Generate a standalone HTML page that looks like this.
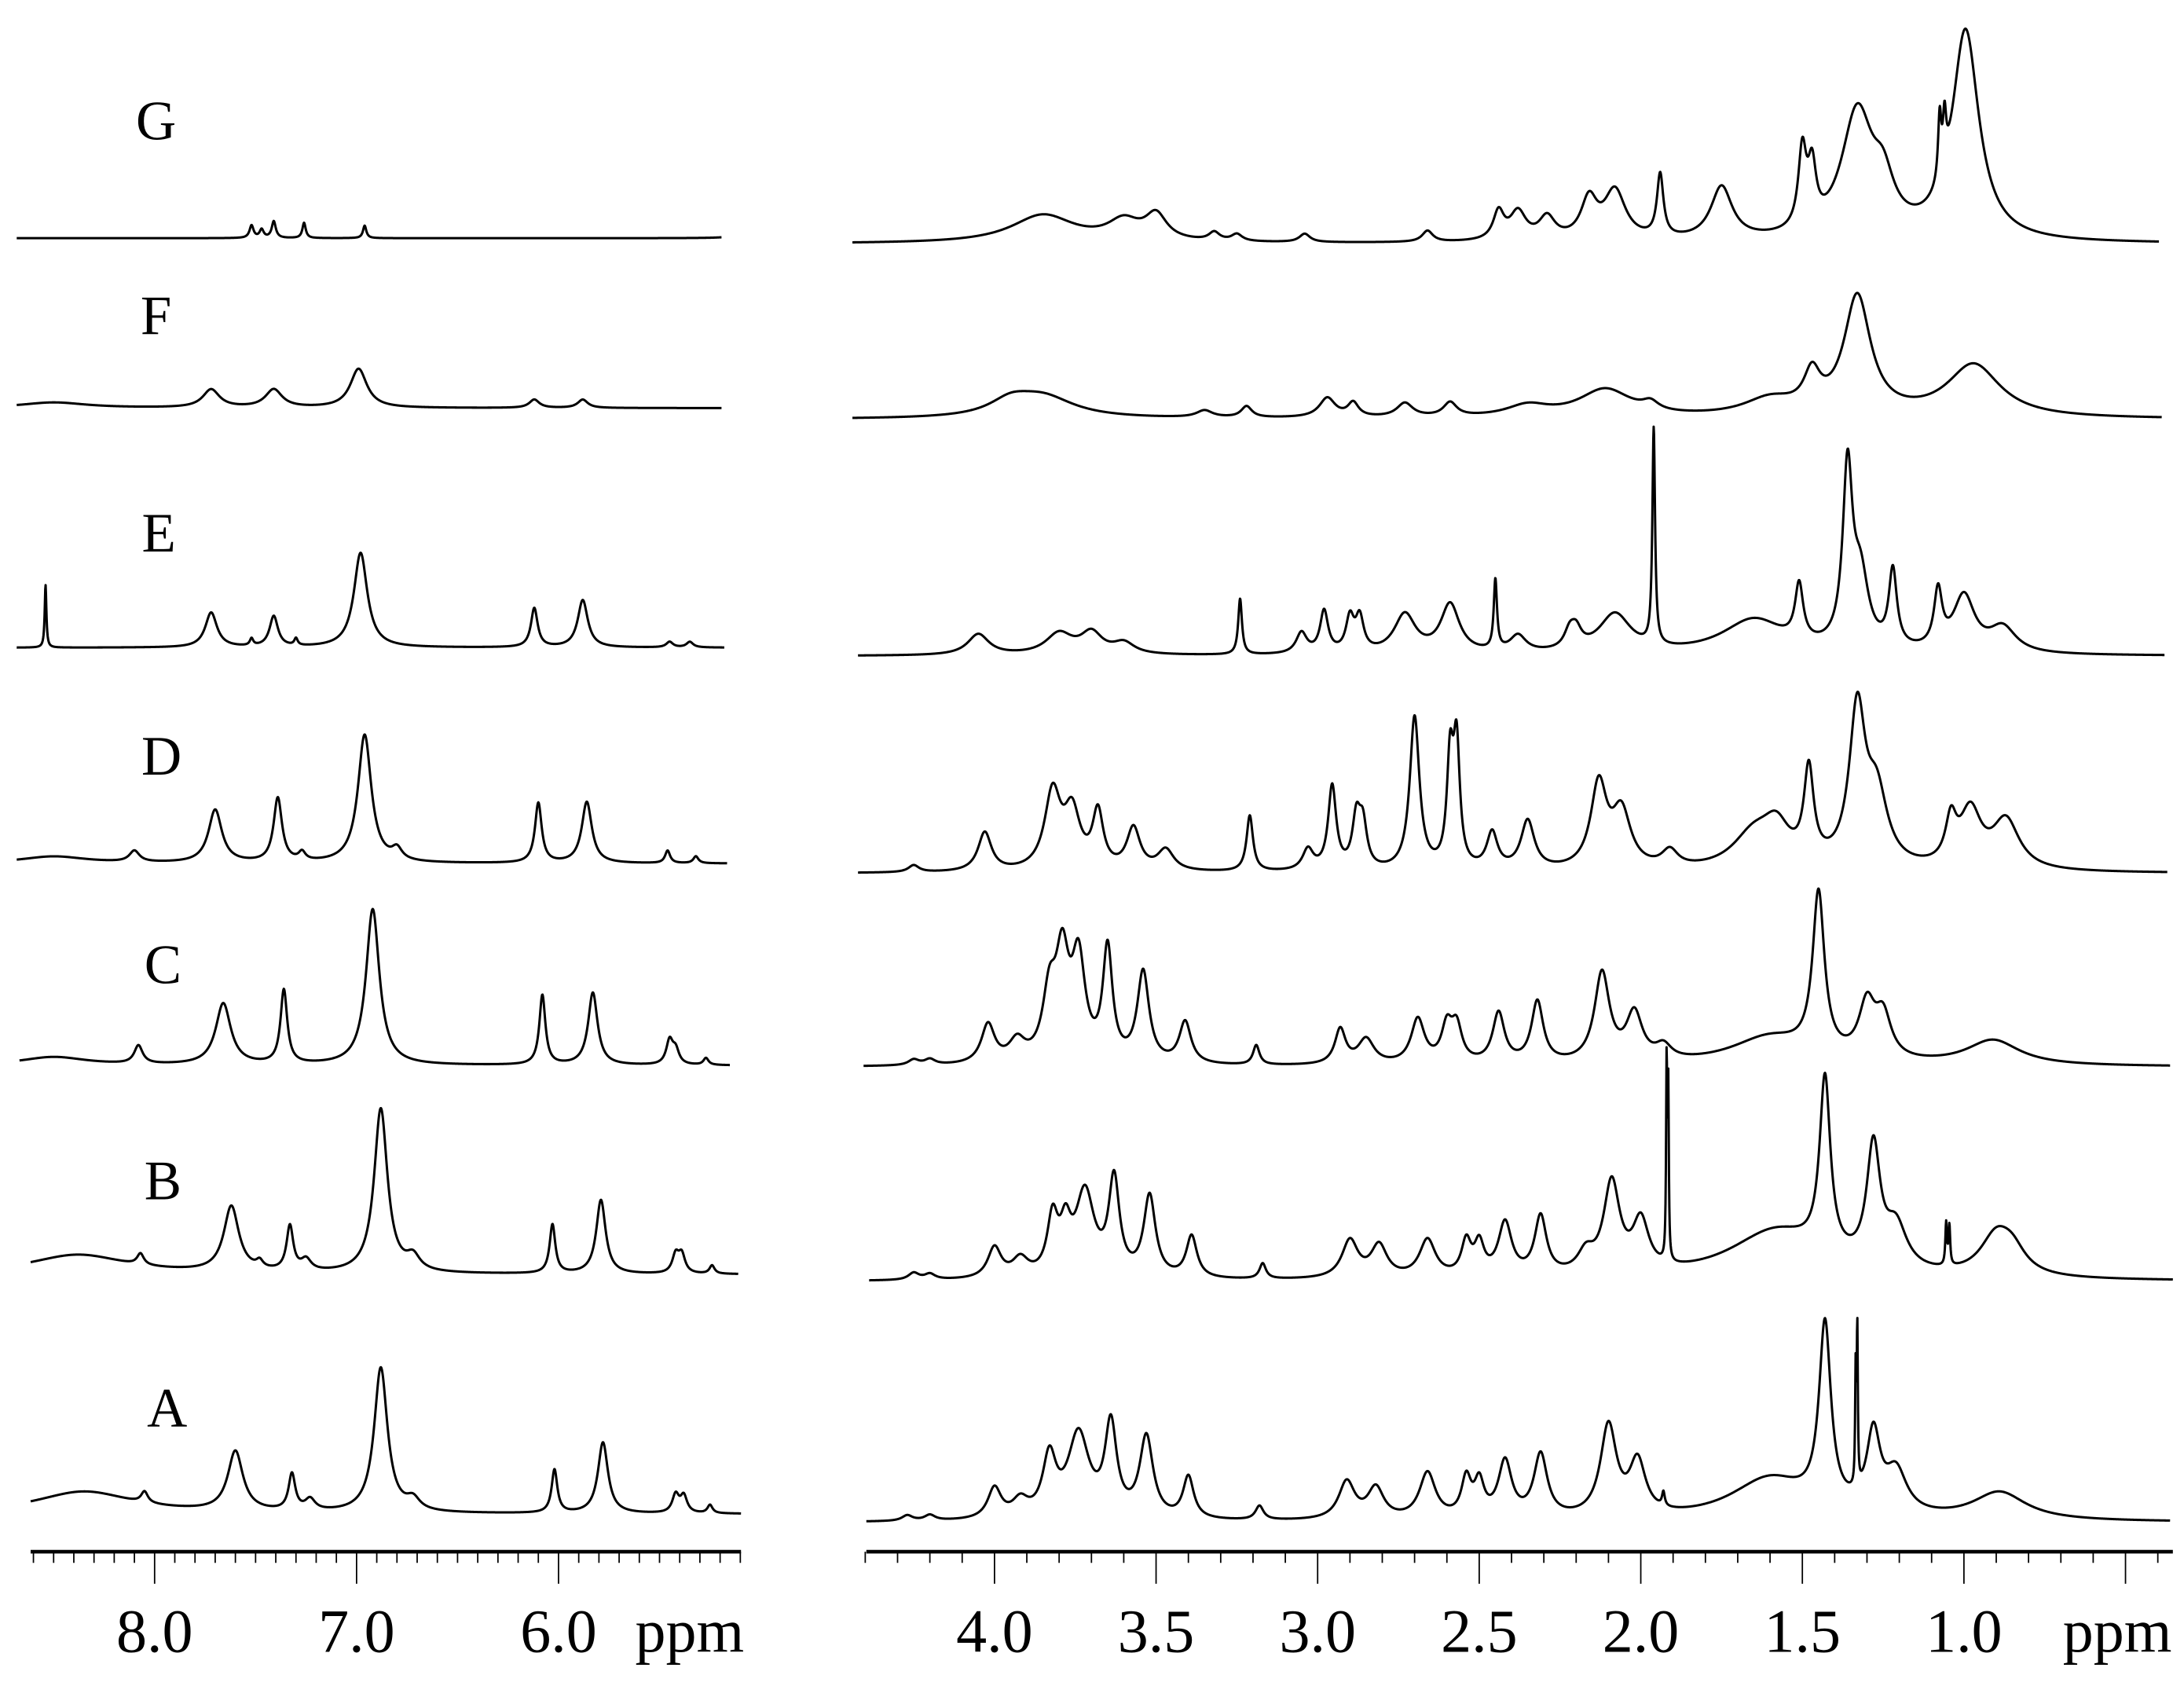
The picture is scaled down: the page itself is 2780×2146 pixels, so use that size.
<!DOCTYPE html>
<html><head><meta charset="utf-8"><title>NMR spectra A–G</title>
<style>html,body{margin:0;padding:0;background:#fff}svg{display:block}</style></head>
<body>
<svg id="chart" xmlns="http://www.w3.org/2000/svg" width="2780" height="2146" viewBox="0 0 1568 1210.4" preserveAspectRatio="none">
<rect x="0" y="0" width="1568" height="1210.4" fill="#fff"/>
<g id="traces"></g>
<g id="axes"></g>
<g id="labels"></g>
</svg>
<script>
// ---- data: peaks (ppm), heights, half-widths (ppm) ----
const traceNames = ["G","F","E","D","C","B","A"];
const leftTickLabels = ["8.0","7.0","6.0"];
const rightTickLabels = ["4.0","3.5","3.0","2.5","2.0","1.5","1.0"];

const gLpos=[7.52,7.47,7.41,7.26,6.96,5.06];
const gLh=[9,6,12,11,9,8];
const gLw=[0.012,0.012,0.012,0.01,0.01,0.04];
const fLpos=[8.5,7.72,7.41,6.99,6.12,5.88];
const fLh=[4,13,13,28,6,6];
const fLw=[0.2,0.05,0.05,0.05,0.03,0.03];
const eLpos=[8.54,7.72,7.52,7.41,7.30,6.98,6.12,5.88,5.45,5.35];
const eLh=[45,25,5,22,5,68,28,34,4,4];
const eLw=[0.005,0.035,0.01,0.025,0.01,0.04,0.02,0.03,0.02,0.02];
const dLpos=[8.5,8.1,7.70,7.39,7.27,6.96,6.80,6.10,5.86,5.46,5.32];
const dLh=[5,8,38,46,6,92,8,43,44,9,5];
const dLw=[0.2,0.03,0.04,0.025,0.02,0.04,0.03,0.02,0.03,0.015,0.015];
const cLpos=[8.5,8.08,7.66,7.36,6.92,6.08,5.83,5.45,5.42,5.27];
const cLh=[6,13,44,53,112,50,52,17,10,5];
const cLw=[0.2,0.025,0.045,0.02,0.04,0.018,0.028,0.02,0.02,0.015];
const bLpos=[8.38,8.07,7.62,7.48,7.33,7.25,6.88,6.72,6.03,5.79,5.42,5.39,5.24];
const bLh=[14,8,47,5,32,8,118,10,35,53,13,13,6];
const bLw=[0.3,0.02,0.045,0.02,0.02,0.03,0.04,0.04,0.017,0.028,0.02,0.02,0.015];
const aLpos=[8.35,8.05,7.60,7.32,7.23,6.88,6.72,6.02,5.78,5.42,5.38,5.25];
const aLh=[16,8,43,26,8,104,8,31,51,13,12,6];
const aLw=[0.3,0.02,0.045,0.02,0.03,0.04,0.04,0.017,0.03,0.02,0.02,0.015];

const gRpos=[3.85,3.6,3.5,3.32,3.25,3.04,2.66,2.44,2.38,2.29,2.16,2.08,1.94,1.75,1.5,1.47,1.33,1.25,1.075,1.06,0.995];
const gRh=[20,14,18,6,5,6,8,20,20,16,28,35,45,38,55,40,90,30,45,35,150];
const gRw=[0.12,0.06,0.04,0.02,0.02,0.02,0.02,0.02,0.03,0.03,0.03,0.04,0.012,0.04,0.015,0.015,0.06,0.04,0.006,0.006,0.05];
const fRpos=[3.95,3.85,3.35,3.22,2.97,2.89,2.73,2.59,2.35,2.11,1.97,1.6,1.47,1.33,0.97];
const fRh=[10,15,5,8,14,10,10,10,8,20,6,12,25,85,38];
const fRw=[0.08,0.12,0.03,0.02,0.03,0.02,0.03,0.025,0.08,0.1,0.03,0.1,0.03,0.05,0.1];
const eRpos=[4.05,3.8,3.7,3.6,3.24,3.05,2.98,2.9,2.87,2.73,2.59,2.45,2.38,2.22,2.2,2.08,1.96,1.65,1.51,1.36,1.32,1.22,1.08,1.0,0.88];
const eRh=[15,15,15,8,40,15,30,24,24,28,35,50,12,12,12,28,155,25,40,125,50,55,40,40,18];
const eRw=[0.04,0.05,0.04,0.04,0.007,0.02,0.015,0.015,0.015,0.04,0.035,0.006,0.03,0.02,0.02,0.06,0.005,0.12,0.015,0.018,0.03,0.015,0.015,0.04,0.05];
const dRpos=[4.25,4.03,3.82,3.76,3.68,3.57,3.47,3.21,3.03,2.955,2.88,2.86,2.70,2.59,2.57,2.46,2.35,2.13,2.06,1.91,1.65,1.58,1.48,1.33,1.27,1.04,0.98,0.87];
const dRh=[5,28,55,40,40,30,15,40,15,60,35,30,110,75,85,26,35,60,40,12,25,25,65,110,50,30,40,35];
const dRw=[0.02,0.025,0.03,0.03,0.02,0.025,0.03,0.012,0.02,0.015,0.015,0.015,0.018,0.012,0.012,0.02,0.025,0.03,0.035,0.03,0.08,0.05,0.018,0.03,0.04,0.02,0.04,0.05];
const cRpos=[4.25,4.2,4.02,3.93,3.83,3.79,3.74,3.65,3.54,3.41,3.19,2.93,2.85,2.69,2.60,2.57,2.44,2.32,2.12,2.02,1.93,1.6,1.45,1.30,1.25,0.91];
const cRh=[4,4,28,15,45,70,70,80,65,30,14,25,18,32,25,25,36,44,64,34,10,20,115,38,30,18];
const cRw=[0.02,0.02,0.025,0.03,0.025,0.025,0.025,0.018,0.022,0.022,0.012,0.02,0.03,0.025,0.02,0.02,0.022,0.022,0.028,0.03,0.03,0.15,0.022,0.03,0.03,0.1];
const bRpos=[4.25,4.2,4.0,3.92,3.82,3.78,3.72,3.63,3.52,3.39,3.17,2.90,2.81,2.66,2.54,2.50,2.42,2.31,2.17,2.09,2.00,1.92,1.915,1.58,1.43,1.28,1.21,1.055,1.045,0.90,0.85];
const bRh=[5,4,22,13,40,30,60,68,58,30,11,27,23,27,24,22,38,42,14,65,36,140,120,35,125,85,30,30,28,28,15];
const bRw=[0.02,0.02,0.025,0.03,0.02,0.02,0.035,0.02,0.022,0.02,0.012,0.03,0.03,0.03,0.018,0.018,0.025,0.022,0.03,0.03,0.03,0.002,0.002,0.18,0.02,0.025,0.04,0.003,0.003,0.06,0.05];
const aRpos=[4.27,4.2,4.0,3.92,3.83,3.74,3.64,3.53,3.40,3.18,2.91,2.82,2.66,2.54,2.50,2.42,2.31,2.10,2.01,1.93,1.60,1.43,1.33,1.335,1.28,1.21,0.89];
const aRh=[4,4,22,12,42,60,65,58,30,10,27,22,33,27,24,40,45,65,38,10,30,130,110,80,55,30,20];
const aRw=[0.02,0.02,0.025,0.03,0.025,0.04,0.022,0.025,0.02,0.015,0.03,0.03,0.03,0.018,0.018,0.025,0.025,0.03,0.03,0.005,0.15,0.022,0.002,0.002,0.025,0.04,0.1];

// ---- layout (not data) ----
const leftPeaks=[[gLpos,gLh,gLw],[fLpos,fLh,fLw],[eLpos,eLh,eLw],[dLpos,dLh,dLw],[cLpos,cLh,cLw],[bLpos,bLh,bLw],[aLpos,aLh,aLw]];
const rightPeaks=[[gRpos,gRh,gRw],[fRpos,fRh,fRw],[eRpos,eRh,eRw],[dRpos,dRh,dRw],[cRpos,cRh,cRw],[bRpos,bRh,bRw],[aRpos,aRh,aRw]];
const leftBase=[171,293,465,620,765,915,1087];
const rightBase=[175,301,471,627,766,920,1093];
const leftExt=[[12,518],[12,518],[12,520],[12,522],[14,524],[22,530],[22,532]];
const rightExt=[[612,1550],[612,1552],[616,1554],[616,1556],[620,1558],[624,1560],[622,1558]];
const labelPos=[[112,100],[112,240],[114,396],[116,556],[117,706],[117,861],[120,1024]];

const NS="http://www.w3.org/2000/svg";
function xL(p){return 111+(8-p)*145;}
function pL(x){return 8-(x-111)/145;}
function xR(p){return 714+(4-p)*232;}
function pR(x){return 4-(x-714)/232;}
function spec(p,pk){let s=0;for(let i=0;i<pk[0].length;i++){const d=(p-pk[0][i])/pk[2][i];s+=pk[1][i]/(1+d*d);}return s;}

const gT=document.getElementById('traces');
function drawTrace(pk,base,ext,invX,name){
  let d="";
  for(let x=ext[0];x<=ext[1];x+=0.25){
    const y=base-spec(invX(x),pk);
    d+=(d?"L":"M")+x.toFixed(2)+","+y.toFixed(2);
  }
  const path=document.createElementNS(NS,'path');
  path.setAttribute('d',d);
  path.setAttribute('fill','none');
  path.setAttribute('stroke','#000');
  path.setAttribute('stroke-width','1.7');
  path.setAttribute('stroke-linejoin','round');
  
  
  gT.appendChild(path);
}
for(let i=0;i<7;i++){
  drawTrace(leftPeaks[i],leftBase[i],leftExt[i],pL,'spectrum-'+traceNames[i].toLowerCase()+'-aromatic');
  drawTrace(rightPeaks[i],rightBase[i],rightExt[i],pR,'spectrum-'+traceNames[i].toLowerCase()+'-aliphatic');
}

const gL=document.getElementById('labels');
for(let i=0;i<7;i++){
  const t=document.createElementNS(NS,'text');
  t.setAttribute('x',labelPos[i][0]);t.setAttribute('y',labelPos[i][1]);
  t.setAttribute('text-anchor','middle');
  t.setAttribute('font-family','"Liberation Serif", serif');
  t.setAttribute('font-size','40');
  t.textContent=traceNames[i];
  
  
  gL.appendChild(t);
}

const gA=document.getElementById('axes');
function line(x1,y1,x2,y2,w,name){
  const l=document.createElementNS(NS,'line');
  l.setAttribute('x1',x1);l.setAttribute('y1',y1);l.setAttribute('x2',x2);l.setAttribute('y2',y2);
  l.setAttribute('stroke','#000');l.setAttribute('stroke-width',w);
  
  
  gA.appendChild(l);
}
function text(x,y,s,anchor,name){
  const t=document.createElementNS(NS,'text');
  t.setAttribute('x',x);t.setAttribute('y',y);t.setAttribute('text-anchor',anchor);
  t.setAttribute('font-family','"Liberation Serif", serif');t.setAttribute('font-size','44');
  t.textContent=s;
  
  
  gA.appendChild(t);
}
const AY=1114;
line(22,AY,532,AY,2.6,'x-axis-left');
line(622,AY,1560,AY,2.6,'x-axis-right');
for(let k=86;k>=51;k--){const p=k/10;const x=xL(p);const major=(k%10===0);line(x,AY,x,AY+(major?23:8),1,major?'major-tick-left':'minor-tick-left');}
for(let k=44;k>=4;k--){const p=k/10;const x=xR(p);if(x>1561)continue;const major=(k%5===0);line(x,AY,x,AY+(major?23:8),1,major?'major-tick-right':'minor-tick-right');}
leftTickLabels.forEach(s=>text(xL(parseFloat(s)),1186,s,'middle','tick-label-left'));
rightTickLabels.forEach(s=>text(xR(parseFloat(s)),1186,s,'middle','tick-label-right'));
text(456,1186,'ppm','start','x-axis-unit-left');
text(1481,1186,'ppm','start','x-axis-unit-right');
</script>
</body></html>
